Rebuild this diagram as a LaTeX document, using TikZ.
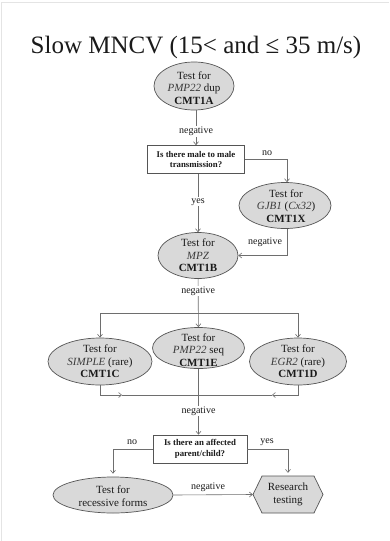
\documentclass[tikz,border=0pt]{standalone}
\usepackage{fontspec}
\setmainfont{Liberation Serif}
\usetikzlibrary{arrows.meta,shapes.geometric}

\definecolor{lineg}{HTML}{6E6E6E}
\definecolor{edgeg}{HTML}{555555}
\definecolor{fillg}{HTML}{D9D9D9}
\definecolor{inkc}{HTML}{1A1A1A}
\definecolor{genec}{HTML}{3A3A3A}
\definecolor{frameg}{HTML}{E4E4E4}

\tikzset{
  test/.style={ellipse, draw=edgeg, fill=fillg, line width=0.7pt, inner sep=0pt},
  txt/.style={align=center, text=inkc, inner sep=0pt, font=\fontsize{11}{12.5}\selectfont},
  question/.style={rectangle, draw=edgeg, fill=white, line width=0.7pt, align=center,
    text=inkc, inner sep=0pt, font=\bfseries\fontsize{8.8}{10.5}\selectfont},
  conn/.style={draw=lineg, line width=0.6pt},
  arr/.style={conn, -{Straight Barb[length=3pt,width=5pt]}},
  lab/.style={fill=white, inner sep=1pt, text=inkc, font=\fontsize{10}{12}\selectfont},
  side/.style={inner sep=0pt, text=inkc, font=\fontsize{10}{12}\selectfont}
}
\newcommand{\gene}[1]{\textcolor{genec}{\textit{#1}}}

\begin{document}
\begin{tikzpicture}[x=1pt,y=-1pt]
\useasboundingbox (0,0) rectangle (389,541);
\fill[white] (0,0) rectangle (389,541);
\draw[frameg, line width=1pt] (1.5,541) -- (1.5,2) -- (389,2);

% heading
\node[anchor=base, inner sep=0pt, text=inkc, font=\fontsize{25}{30}\selectfont]
  (title) at (196,53) {Slow MNCV (15< and ≤ 35 m/s)};

% tests
\node[test, minimum width=80, minimum height=48] (A) at (194,86) {};
\node[txt] (At) at (194,88) {Test for\\\gene{PMP22} dup\\\textbf{CMT1A}};

\node[question, minimum width=97, minimum height=28] (Q1) at (196,159.5)
  {Is there male to male\\transmission?};

\node[test, minimum width=92, minimum height=46] (X) at (285,205.5) {};
\node[txt] (Xt) at (286,206) {Test for\\\gene{GJB1} (\gene{Cx32})\\\textbf{CMT1X}};

\node[test, minimum width=80, minimum height=46] (B) at (198,255.5) {};
\node[txt] (Bt) at (198,255.5) {Test for\\\gene{MPZ}\\\textbf{CMT1B}};

\node[test, minimum width=104, minimum height=47] (C) at (100,361.5) {};
\node[txt] (Ct) at (100,361.5) {Test for\\\gene{SIMPLE} (rare)\\\textbf{CMT1C}};

\node[test, minimum width=97, minimum height=47] (D) at (298,361.5) {};
\node[txt] (Dt) at (298,361.5) {Test for\\\gene{EGR2} (rare)\\\textbf{CMT1D}};

\node[test, minimum width=92, minimum height=41] (E) at (198.5,348) {};
\node[txt] (Et) at (198.5,350) {Test for\\\gene{PMP22} seq\\\textbf{CMT1E}};

\node[question, minimum width=94, minimum height=28] (Q2) at (200,449)
  {Is there an affected\\parent/child?};

\node[test, minimum width=120, minimum height=36] (R) at (113,495) {};
\node[txt] (Rt) at (113,496) {Test for\\recessive forms};

% research testing hexagon
\filldraw[draw=edgeg, fill=fillg, line width=0.7pt]
  (253,494.5) -- (262,476) -- (314,476) -- (323,494.5) -- (314,513) -- (262,513) -- cycle;
\node[txt, minimum width=70, minimum height=37] (RT) at (288,494.5) {Research\\testing};

% junctions
\coordinate (jT) at (198,313);
\coordinate (mL) at (122,395);
\coordinate (mR) at (272,395);

% connectors
\draw[arr] (A.south -| Q1.north) -- node[lab, pos=0.6] (n1) {negative} (Q1.north);
\draw[arr] (Q1.east) -| (X.north -| 287,0);
\node[side] (no1) at (267,153) {no};
\draw[arr] (Q1.south -| B.north) -- node[lab, pos=0.48] (y1) {yes} (B.north);
\draw[arr] (X.south -| 287,0) |- (B.east);
\node[side] (n2) at (265,242) {negative};

\draw[arr] (B) -- node[lab, pos=0.25] (n3) {negative} (E);
\draw[arr] (jT) -| (C.north);
\draw[arr] (jT) -| (D.north);

\draw[arr] (C.south) |- (mL);
\draw[arr] (D.south) |- (mR);
\draw[conn] (mL) -- (mR);

\draw[arr] (E) -- node[lab, pos=0.64] (n4) {negative} (Q2.north -| E.south);

\draw[arr, shorten >=3pt] (Q2.west) -| (R.north);
\node[side] (no2) at (132,442) {no};
\draw[arr, shorten >=3pt] (Q2.east) -| (RT.north);
\node[side] (y2) at (267,442) {yes};

\draw[arr] (R.east) -- (RT.west);
\node[side] (n5) at (208,487) {negative};
\end{tikzpicture}
\end{document}
